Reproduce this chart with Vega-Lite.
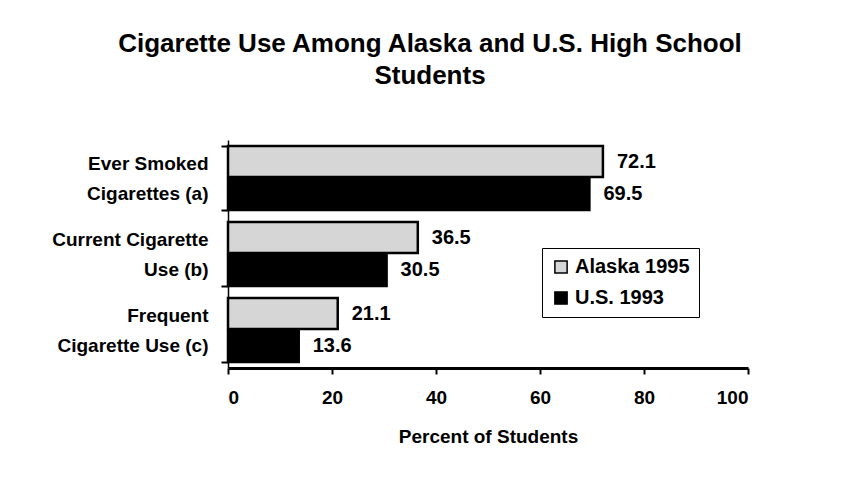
{
  "$schema": "https://vega.github.io/schema/vega-lite/v6.json",
  "width": 520,
  "height": 228,
  "autosize": "none",
  "padding": {"left": 228, "top": 140, "right": 98, "bottom": 120},
  "background": "white",
  "title": {
    "text": ["Cigarette Use Among Alaska and U.S. High School", "Students"],
    "font": "Liberation Sans",
    "fontSize": 26,
    "fontWeight": "bold",
    "color": "black",
    "anchor": "middle",
    "dx": -58,
    "offset": 42,
    "lineHeight": 32
  },
  "data": {
    "values": [
      {"measure": "Ever Smoked|Cigarettes (a)", "group": "Alaska 1995", "percent": 72.1},
      {"measure": "Ever Smoked|Cigarettes (a)", "group": "U.S. 1993", "percent": 69.5},
      {"measure": "Current Cigarette|Use (b)", "group": "Alaska 1995", "percent": 36.5},
      {"measure": "Current Cigarette|Use (b)", "group": "U.S. 1993", "percent": 30.5},
      {"measure": "Frequent|Cigarette Use (c)", "group": "Alaska 1995", "percent": 21.1},
      {"measure": "Frequent|Cigarette Use (c)", "group": "U.S. 1993", "percent": 13.6}
    ]
  },
  "encoding": {
    "y": {
      "field": "measure",
      "type": "nominal",
      "sort": null,
      "scale": {"paddingInner": 0.158, "paddingOuter": 0.079},
      "axis": {
        "title": null,
        "labelExpr": "split(datum.label, '|')",
        "labelLineHeight": 30,
        "labelOffset": -15,
        "labelFont": "Liberation Sans",
        "labelFontSize": 19,
        "labelFontWeight": "bold",
        "labelColor": "black",
        "labelPadding": 13,
        "labelLimit": 0,
        "domainColor": "black",
        "domainWidth": 1.5,
        "tickBand": "extent",
        "tickColor": "black",
        "tickWidth": 2,
        "tickSize": 7
      }
    },
    "yOffset": {"field": "group", "type": "nominal", "sort": null, "scale": {"paddingInner": 0.06}},
    "x": {
      "field": "percent",
      "type": "quantitative",
      "scale": {"domain": [0, 100], "nice": false},
      "axis": {
        "title": "Percent of Students",
        "values": [0, 20, 40, 60, 80, 100],
        "grid": false,
        "domainColor": "black",
        "domainWidth": 3,
        "tickColor": "black",
        "tickWidth": 2,
        "tickSize": 6,
        "labelFont": "Liberation Sans",
        "labelFontSize": 19,
        "labelFontWeight": "bold",
        "labelColor": "black",
        "labelPadding": 14,
        "titleFont": "Liberation Sans",
        "titleFontSize": 19,
        "titleFontWeight": "bold",
        "titleColor": "black",
        "titlePadding": 20
      }
    }
  },
  "layer": [
    {
      "mark": {"type": "bar", "stroke": "black", "strokeWidth": 2.5},
      "encoding": {
        "color": {
          "field": "group",
          "type": "nominal",
          "scale": {"domain": ["Alaska 1995", "U.S. 1993"], "range": ["#d6d6d6", "#000000"]},
          "legend": {
            "title": null,
            "orient": "none",
            "legendX": 314,
            "legendY": 108,
            "strokeColor": "black",
            "fillColor": "white",
            "padding": 9,
            "symbolType": "square",
            "symbolSize": 150,
            "symbolStrokeColor": "black",
            "symbolStrokeWidth": 1.5,
            "labelFont": "Liberation Sans",
            "labelFontSize": 20,
            "labelFontWeight": "bold",
            "labelColor": "black",
            "labelOffset": 4,
            "rowPadding": 11
          }
        }
      }
    },
    {
      "mark": {
        "type": "text",
        "align": "left",
        "baseline": "middle",
        "dx": 14,
        "font": "Liberation Sans",
        "fontSize": 20,
        "fontWeight": "bold",
        "color": "black"
      },
      "encoding": {
        "text": {"field": "percent", "type": "quantitative", "format": ".1f"}
      }
    }
  ],
  "config": {"view": {"stroke": null}}
}
